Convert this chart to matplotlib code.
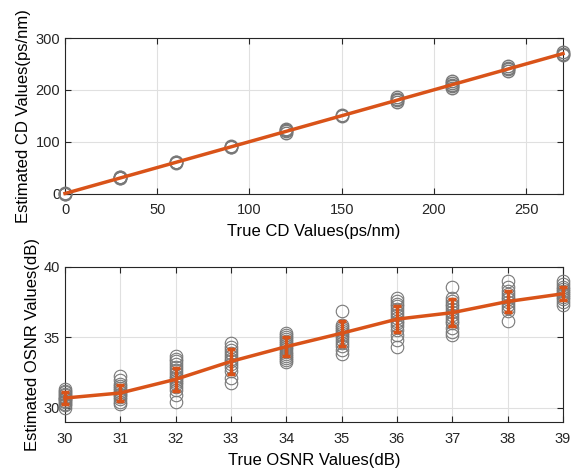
import matplotlib.pyplot as plt

plt.rcParams['font.family'] = ['Liberation Sans', 'DejaVu Sans']

# CD estimation data
cd_true = [0, 30, 60, 90, 120, 150, 180, 210, 240, 270]
cd_est = [
    [0, 1, -1],
    [29, 31, 30, 32],
    [59, 61, 60],
    [89, 91, 90],
    [117, 120, 122, 124],
    [149, 151],
    [177, 180, 183, 186],
    [204, 207, 210, 213, 217],
    [237, 240, 243, 246],
    [267, 270, 273],
]
cd_mean = [0, 30, 60, 90, 120, 150, 180, 210, 240, 270]

# OSNR estimation data
osnr_true = [30, 31, 32, 33, 34, 35, 36, 37, 38, 39]
osnr_est = [
    [30.0, 30.2, 30.3, 30.5, 30.6, 30.7, 30.8, 30.9, 31.0, 31.1, 31.2, 31.35, 30.45, 30.65],
    [30.3, 30.45, 30.6, 30.75, 30.9, 31.0, 31.1, 31.25, 31.4, 31.55, 31.7, 31.95, 32.3],
    [30.4, 30.9, 31.3, 31.5, 31.7, 31.85, 32.0, 32.15, 32.3, 32.5, 32.7, 32.9, 33.1, 33.3, 33.5, 33.7],
    [31.8, 32.1, 32.6, 32.9, 33.1, 33.3, 33.5, 33.7, 33.9, 34.1, 34.3, 34.6],
    [33.25, 33.4, 33.55, 33.7, 33.85, 34.0, 34.15, 34.3, 34.45, 34.6, 34.75, 34.9, 35.05, 35.2, 35.35],
    [33.8, 34.1, 34.4, 34.6, 34.8, 35.0, 35.15, 35.3, 35.45, 35.6, 35.75, 35.9, 36.9],
    [34.3, 34.8, 35.2, 35.5, 35.8, 36.0, 36.2, 36.4, 36.6, 36.8, 37.0, 37.2, 37.4, 37.6, 37.8],
    [35.2, 35.4, 35.7, 36.0, 36.2, 36.4, 36.6, 36.8, 37.0, 37.2, 37.4, 37.6, 37.8, 38.6],
    [36.2, 36.9, 37.1, 37.3, 37.5, 37.7, 37.9, 38.1, 38.3, 38.6, 39.0],
    [37.3, 37.5, 37.7, 37.85, 38.0, 38.15, 38.3, 38.45, 38.6, 38.8, 39.0],
]
osnr_mean = [30.7, 31.06, 32.03, 33.3, 34.35, 35.3, 36.3, 36.76, 37.55, 38.1]
osnr_err = [0.43, 0.54, 0.8, 0.88, 0.68, 0.9, 0.9, 0.95, 0.72, 0.47]

orange = (0.85, 0.325, 0.098)
gray = (0.47, 0.47, 0.47)

fig = plt.figure(figsize=(5.71, 4.71), dpi=100)
ax1 = fig.add_axes([65 / 571, 1 - 193.5 / 471, 498 / 571, 155.5 / 471])
ax2 = fig.add_axes([65 / 571, 1 - 422 / 471, 498 / 571, 155 / 471])

# top: CD
for x, vals in zip(cd_true, cd_est):
    ax1.plot([x] * len(vals), vals, 'o', mfc='none', mec=gray, ms=9, mew=1.0,
             clip_on=False, zorder=3)
ax1.plot(cd_true, cd_mean, color=orange, lw=2.5, clip_on=False, zorder=4)
ax1.set_xlim(0, 270)
ax1.set_ylim(0, 300)
ax1.set_xticks(range(0, 251, 50))
ax1.set_yticks(range(0, 301, 100))
ax1.set_xlabel('True CD Values(ps/nm)', fontsize=12, labelpad=5)
ax1.set_ylabel('Estimated CD Values(ps/nm)', fontsize=12, labelpad=3)

# bottom: OSNR
for x, vals in zip(osnr_true, osnr_est):
    ax2.plot([x] * len(vals), vals, 'o', mfc='none', mec=gray, ms=9, mew=0.8,
             clip_on=False, zorder=3)
ax2.errorbar(osnr_true, osnr_mean, yerr=osnr_err, color=orange, lw=2.5,
             elinewidth=2.5, capsize=3, capthick=2.5, clip_on=False, zorder=4)
ax2.set_xlim(30, 39)
ax2.set_ylim(29, 40)
ax2.set_xticks(osnr_true)
ax2.set_yticks([30, 35, 40])
ax2.set_xlabel('True OSNR Values(dB)', fontsize=12, labelpad=5)
ax2.set_ylabel('Estimated OSNR Values(dB)', fontsize=12, labelpad=3)

for ax in (ax1, ax2):
    ax.grid(True, color=(0.88, 0.88, 0.88), lw=0.8)
    ax.set_axisbelow(True)
    ax.tick_params(direction='in', top=True, right=True, labelsize=10.5,
                   colors=(0.15, 0.15, 0.15), length=4)
    ax.tick_params(axis='x', pad=7)
    for s in ax.spines.values():
        s.set_color((0.15, 0.15, 0.15))
        s.set_linewidth(0.8)

fig.savefig('out.png', dpi=100)
